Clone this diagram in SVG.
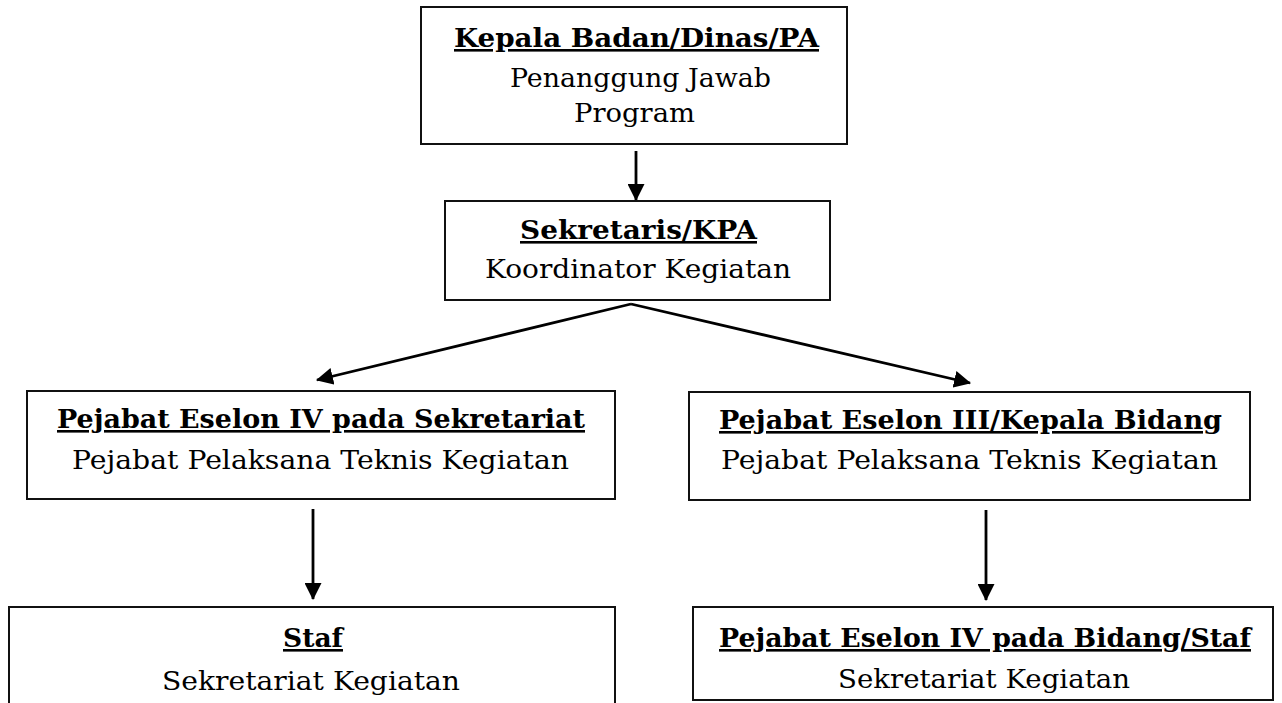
<svg xmlns="http://www.w3.org/2000/svg" width="1282" height="703" viewBox="0 0 1282 703">
<style>
.box{fill:#fff;stroke:#111;stroke-width:2}
.t{font-family:"DejaVu Serif","Liberation Serif",serif;font-size:26px;fill:#000}
.b{font-weight:bold;text-decoration:underline}
.c{stroke:#000;stroke-width:2.8;fill:none;marker-end:url(#ah)}
</style>
<defs>
<marker id="ah" viewBox="0 0 16 16" refX="15" refY="8" markerWidth="17" markerHeight="17" markerUnits="userSpaceOnUse" orient="auto">
<path d="M0,0 L16,8 L0,16 z" fill="#000"/>
</marker>
</defs>
<rect width="1282" height="703" fill="#fff"/>
<g id="connectors">
<line class="c" x1="636" y1="151" x2="636" y2="200"/>
<line class="c" x1="631" y1="304" x2="317" y2="380"/>
<line class="c" x1="631" y1="304" x2="970" y2="383"/>
<line class="c" x1="313" y1="509" x2="313" y2="599"/>
<line class="c" x1="986" y1="510" x2="986" y2="600"/>
</g>
<g id="kepala">
<rect class="box" x="421" y="7" width="426" height="137"/>
<text class="t b" x="454" y="47" textLength="365" lengthAdjust="spacingAndGlyphs">Kepala Badan/Dinas/PA</text>
<text class="t" x="510" y="87" textLength="261" lengthAdjust="spacingAndGlyphs">Penanggung Jawab</text>
<text class="t" x="574" y="122" textLength="121" lengthAdjust="spacingAndGlyphs">Program</text>
</g>
<g id="sekretaris">
<rect class="box" x="445" y="201" width="385" height="99"/>
<text class="t b" x="520" y="239" textLength="237" lengthAdjust="spacingAndGlyphs">Sekretaris/KPA</text>
<text class="t" x="485" y="278" textLength="306" lengthAdjust="spacingAndGlyphs">Koordinator Kegiatan</text>
</g>
<g id="eselon4-sekretariat">
<rect class="box" x="27" y="391" width="588" height="108"/>
<text class="t b" x="57" y="428" textLength="528" lengthAdjust="spacingAndGlyphs">Pejabat Eselon IV pada Sekretariat</text>
<text class="t" x="72" y="469" textLength="497" lengthAdjust="spacingAndGlyphs">Pejabat Pelaksana Teknis Kegiatan</text>
</g>
<g id="eselon3-bidang">
<rect class="box" x="689" y="392" width="561" height="108"/>
<text class="t b" x="719" y="429" textLength="503" lengthAdjust="spacingAndGlyphs">Pejabat Eselon III/Kepala Bidang</text>
<text class="t" x="721" y="469" textLength="497" lengthAdjust="spacingAndGlyphs">Pejabat Pelaksana Teknis Kegiatan</text>
</g>
<g id="staf">
<rect class="box" x="9" y="607" width="606" height="110"/>
<text class="t b" x="283" y="647" textLength="60" lengthAdjust="spacingAndGlyphs">Staf</text>
<text class="t" x="162" y="690" textLength="298" lengthAdjust="spacingAndGlyphs">Sekretariat Kegiatan</text>
</g>
<g id="eselon4-bidang">
<rect class="box" x="693" y="607" width="580" height="93"/>
<text class="t b" x="719" y="647" textLength="532" lengthAdjust="spacingAndGlyphs">Pejabat Eselon IV pada Bidang/Staf</text>
<text class="t" x="838" y="688" textLength="292" lengthAdjust="spacingAndGlyphs">Sekretariat Kegiatan</text>
</g>
</svg>
